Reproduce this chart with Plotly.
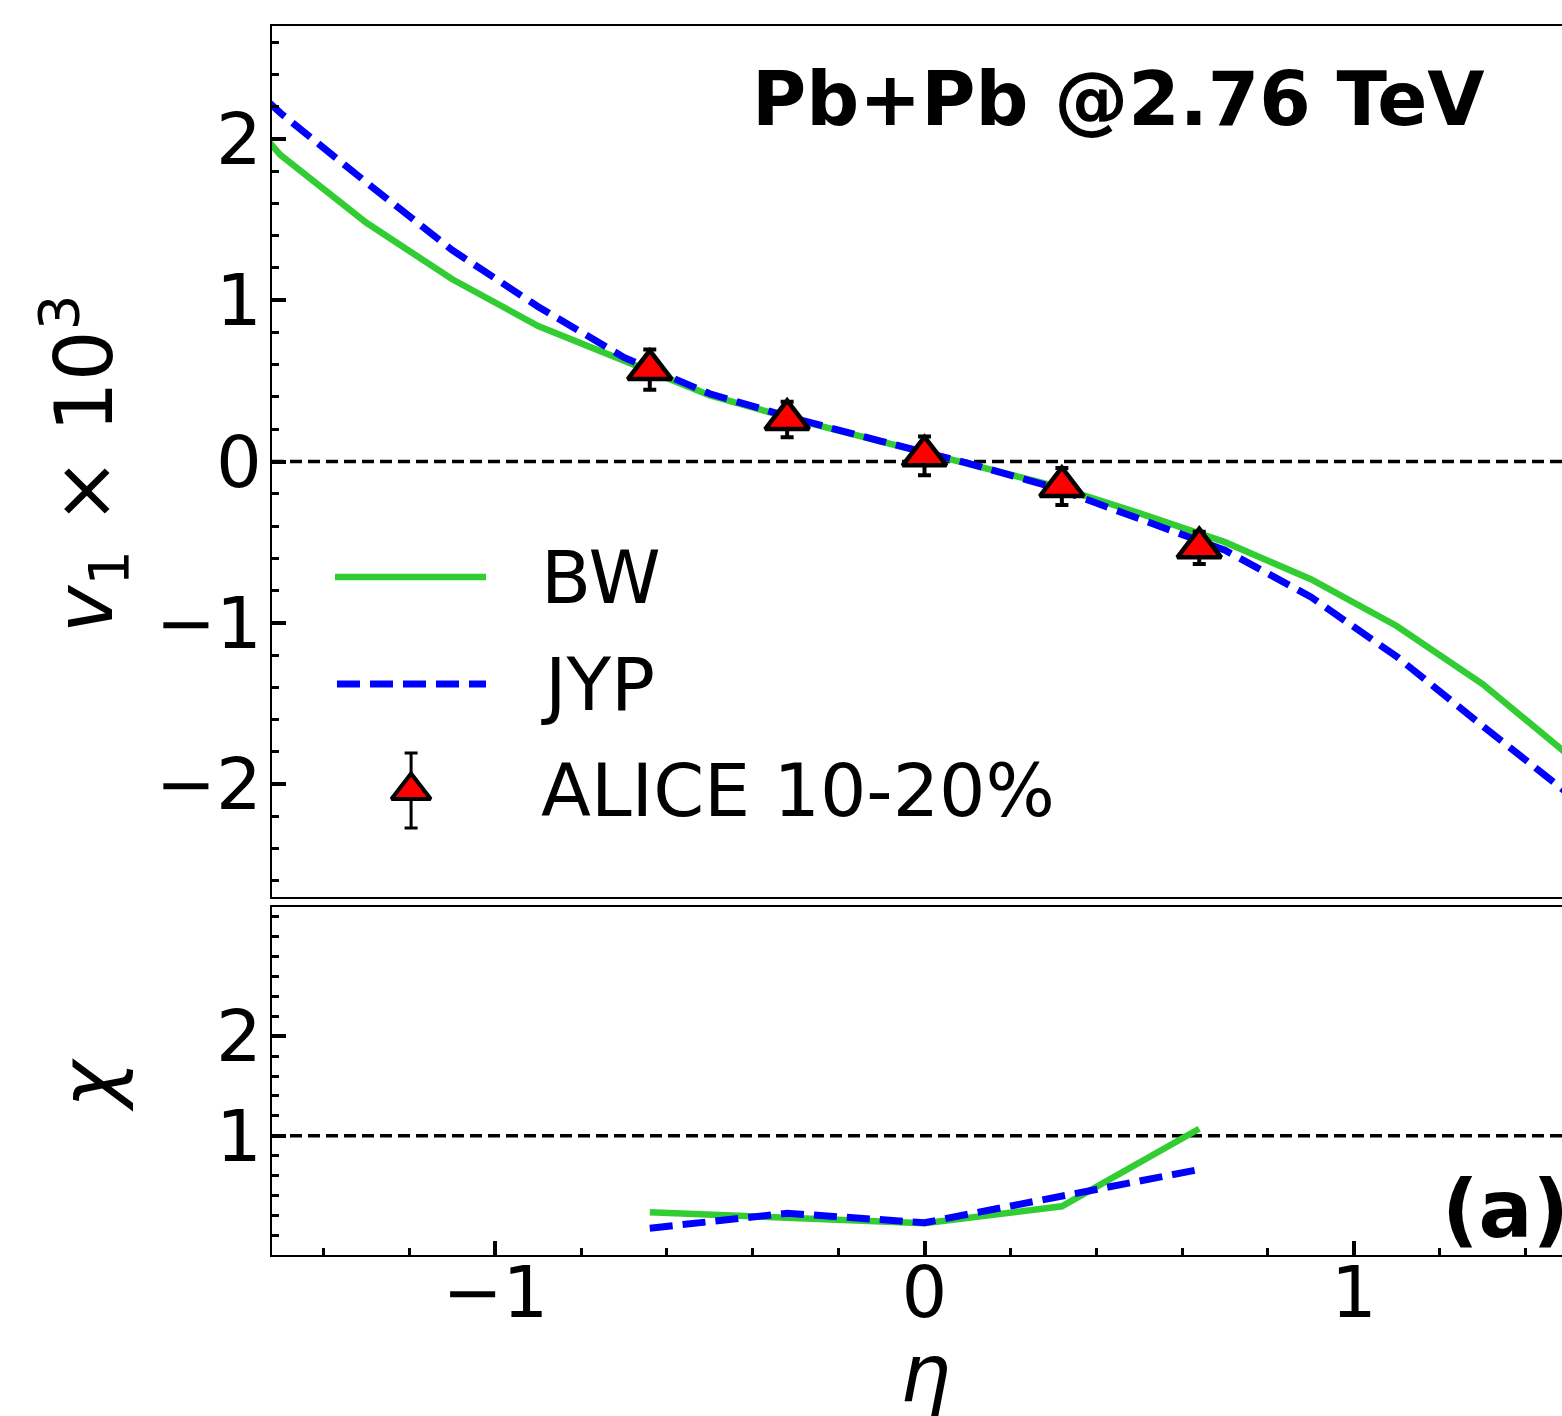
import plotly.graph_objects as go

# ---------------- data ----------------
eta_model = [-1.7, -1.5, -1.3, -1.1, -0.9, -0.7, -0.5, -0.3, -0.1,
             0.1, 0.3, 0.5, 0.7, 0.9, 1.1, 1.3, 1.5]
bw_v1 = [2.50, 1.90, 1.48, 1.13, 0.84, 0.63, 0.41, 0.26, 0.12,
         -0.01, -0.15, -0.32, -0.50, -0.73, -1.02, -1.38, -1.82]
jyp_v1 = [2.65, 2.16, 1.73, 1.31, 0.96, 0.645, 0.42, 0.265, 0.125,
          -0.01, -0.16, -0.35, -0.55, -0.84, -1.21, -1.64, -2.06]

eta_data = [-0.64, -0.32, 0.0, 0.32, 0.64]
alice_v1 = [0.57, 0.26, 0.035, -0.155, -0.535]
alice_err = [0.125, 0.11, 0.12, 0.115, 0.10]

bw_chi = [0.23, 0.175, 0.12, 0.29, 1.07]
jyp_chi = [0.07, 0.22, 0.125, 0.39, 0.66]

legend_labels = ["BW", "JYP", "ALICE 10-20%"]
title_text = "Pb+Pb @2.76 TeV"
panel_tag = "(a)"

# ---------------- layout geometry ----------------
W, H = 1562, 1416
L, R, T, B = 272, 0, 26, 161
PW = W - L - R
PH = H - T - B


def px_x(p):
    return (p - L) / PW


def px_y(p):
    return (H - B - p) / PH


GREEN = "#32CD32"
BLUE = "#0000FF"
FONT = "DejaVu Sans"
GW, BWD = 6.5, 7
MARK = dict(symbol="triangle-up", size=38, color="red",
            line=dict(color="black", width=4.5))

fig = go.Figure()

# top panel
fig.add_trace(go.Scatter(x=eta_model, y=bw_v1, mode="lines",
                         line=dict(color=GREEN, width=GW),
                         xaxis="x", yaxis="y", showlegend=False))
fig.add_trace(go.Scatter(x=eta_model, y=jyp_v1, mode="lines",
                         line=dict(color=BLUE, width=BWD, dash="23px,10px"),
                         xaxis="x", yaxis="y", showlegend=False))
fig.add_trace(go.Scatter(x=eta_data, y=alice_v1, mode="markers",
                         marker=MARK,
                         error_y=dict(type="data", array=alice_err, color="black",
                                      thickness=4, width=6.5),
                         xaxis="x", yaxis="y", showlegend=False))

# bottom panel
fig.add_trace(go.Scatter(x=eta_data, y=bw_chi, mode="lines",
                         line=dict(color=GREEN, width=GW),
                         xaxis="x2", yaxis="y2", showlegend=False))
fig.add_trace(go.Scatter(x=eta_data, y=jyp_chi, mode="lines",
                         line=dict(color=BLUE, width=BWD, dash="23px,10px"),
                         xaxis="x2", yaxis="y2", showlegend=False))

# legend key for ALICE (placed in top-panel coordinates)
fig.add_trace(go.Scatter(x=[-1.196], y=[-2.04], mode="markers",
                         marker=dict(symbol="triangle-up", size=34, color="red",
                                     line=dict(color="black", width=4)),
                         error_y=dict(type="data", array=[0.232], color="black",
                                      thickness=3, width=6.5),
                         xaxis="x", yaxis="y", showlegend=False))

top_dom = [(H - B - 897) / PH, 1.0]
bot_dom = [0.0, (H - B - 907) / PH]
xrange = [-1.52, 1.485]

axis_common = dict(showline=True, linecolor="black", linewidth=1.8,
                   showgrid=False, zeroline=False,
                   tickfont=dict(family=FONT, size=72, color="black"))
minor_ticks = dict(ticks="inside", ticklen=7, tickwidth=3,
                   tickcolor="black", tickmode="linear", tick0=0, dtick=0.2)

fig.update_layout(
    width=W, height=H,
    margin=dict(l=L, r=R, t=T, b=B, pad=0),
    paper_bgcolor="white", plot_bgcolor="white",
    font=dict(family=FONT, color="black"),
    xaxis=dict(domain=[0, 1], range=xrange, anchor="y", matches="x2",
               showticklabels=False, ticks="", mirror=True, **axis_common),
    yaxis=dict(domain=top_dom, range=[-2.7, 2.7], anchor="x",
               tickmode="linear", tick0=0, dtick=1,
               ticks="inside", ticklen=14, tickwidth=3.5, tickcolor="black",
               ticklabelstandoff=-6,
               minor=minor_ticks, **axis_common),
    xaxis2=dict(domain=[0, 1], range=xrange, anchor="y2",
                tickmode="linear", tick0=0, dtick=1,
                ticks="inside", ticklen=14, tickwidth=3.5, tickcolor="black",
                ticklabelstandoff=-26,
                mirror=True, minor=minor_ticks, **axis_common),
    yaxis2=dict(domain=bot_dom, range=[-0.2, 3.3], anchor="x2",
                tickmode="array", tickvals=[1, 2], ticktext=["1", "2"],
                ticks="inside", ticklen=14, tickwidth=3.5, tickcolor="black",
                ticklabelstandoff=-6,
                minor=minor_ticks, **axis_common),
)

# reference dashed lines
fig.add_shape(type="line", xref="x domain", x0=0, x1=1, yref="y", y0=0, y1=0,
              line=dict(color="black", width=3.5, dash="12px,6px"), layer="below")
fig.add_shape(type="line", xref="x2 domain", x0=0, x1=1, yref="y2", y0=1, y1=1,
              line=dict(color="black", width=3.5, dash="12px,6px"), layer="below")

# legend lines
fig.add_shape(type="line", xref="paper", yref="paper",
              x0=px_x(335), x1=px_x(486), y0=px_y(577), y1=px_y(577),
              line=dict(color=GREEN, width=GW))
fig.add_shape(type="line", xref="paper", yref="paper",
              x0=px_x(337), x1=px_x(486), y0=px_y(684), y1=px_y(684),
              line=dict(color=BLUE, width=BWD, dash="23px,10px"))

ann = []
for lab, yp in zip(legend_labels, [577, 684, 790]):
    ann.append(dict(text=lab, xref="paper", yref="paper", x=px_x(539), y=px_y(yp),
                    xanchor="left", yanchor="middle", showarrow=False,
                    font=dict(family=FONT, size=73, color="black")))
ann.append(dict(text="<b>" + title_text + "</b>", xref="paper", yref="paper",
                x=px_x(750), y=px_y(99), xanchor="left", yanchor="middle",
                showarrow=False, font=dict(family=FONT, size=74, color="black")))
ann.append(dict(text="<b>" + panel_tag + "</b>", xref="paper", yref="paper",
                x=px_x(1440), y=px_y(1209), xanchor="left", yanchor="middle",
                showarrow=False, font=dict(family=FONT, size=80, color="black")))
ann.append(dict(text="<i>v</i><sub>1</sub> × 10<sup>3</sup>", xref="paper", yref="paper",
                x=px_x(83), y=px_y(464), xanchor="center", yanchor="middle",
                textangle=-90, showarrow=False,
                font=dict(family=FONT, size=80, color="black")))
ann.append(dict(text="<i>χ</i>", xref="paper", yref="paper",
                x=px_x(88), y=px_y(1085), xanchor="center", yanchor="middle",
                textangle=-90, showarrow=False,
                font=dict(family=FONT, size=80, color="black")))
ann.append(dict(text="<i>η</i>", xref="paper", yref="paper",
                x=px_x(925), y=px_y(1374), xanchor="center", yanchor="middle",
                showarrow=False, font=dict(family=FONT, size=80, color="black")))
fig.update_layout(annotations=ann)

fig.write_html("out.html")
